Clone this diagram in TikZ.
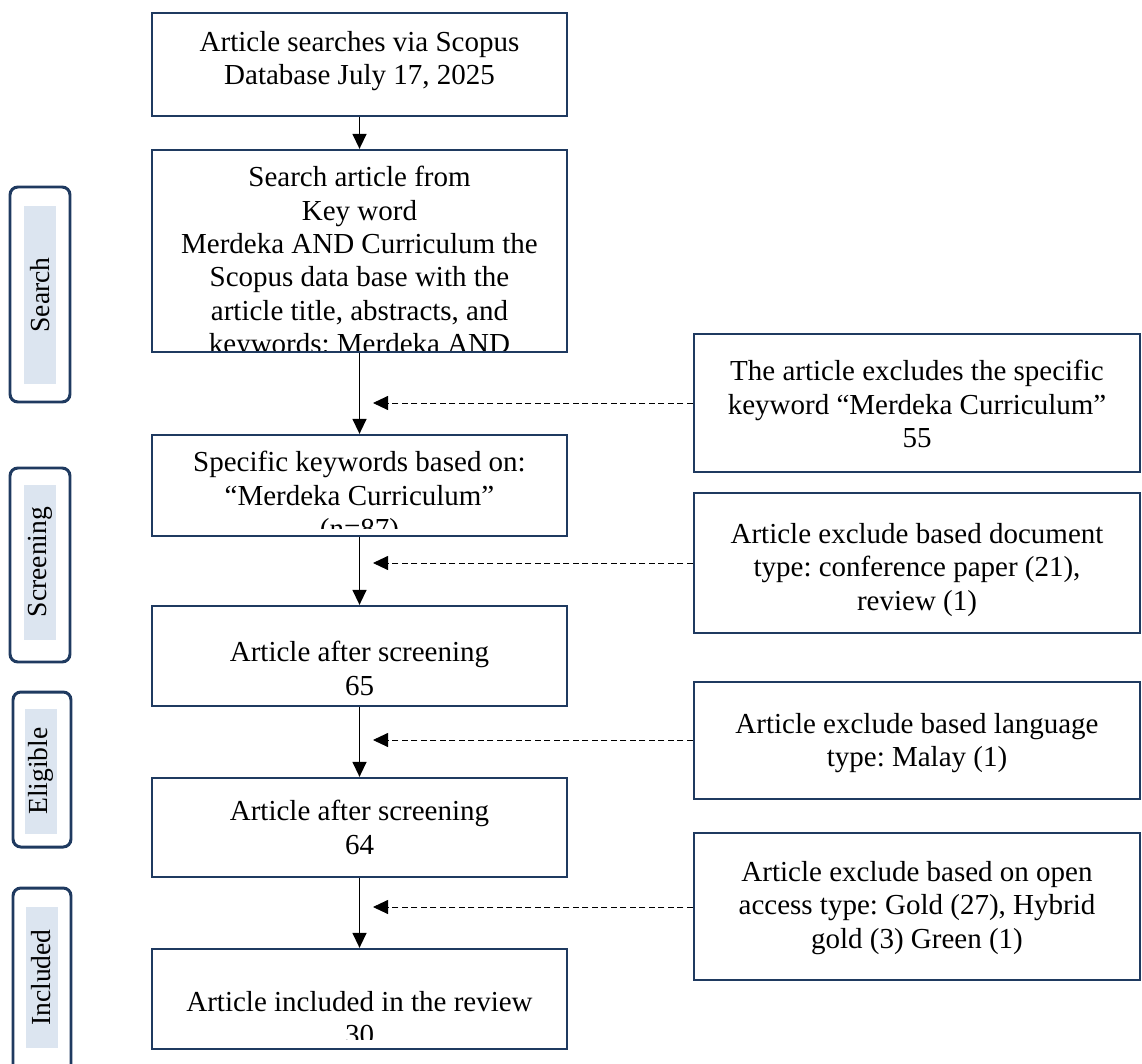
\documentclass[tikz,border=0pt]{standalone}
\usepackage{fontspec}
\setmainfont{Liberation Serif}
\usetikzlibrary{arrows.meta, positioning}
\definecolor{navy}{HTML}{1F3A60}
\definecolor{stagefill}{HTML}{DCE5F0}
\newcommand{\flowfont}{\fontsize{16.5}{19}\selectfont}
\newcommand{\stagefont}{\fontsize{15.7}{19}\selectfont}
\frenchspacing

\begin{document}
\begin{tikzpicture}[>={Triangle[length=0.3cm, width=0.28cm]},
  flowbox/.style={draw=navy, line width=1.3pt, minimum width=8.3cm, inner sep=0pt},
  exclbox/.style={draw=navy, line width=1.3pt, minimum width=8.92cm, inner sep=0pt},
  flowtext/.style={align=center, inner sep=0pt, font=\flowfont},
  stagebox/.style={draw=navy, line width=1.7pt, rounded corners=4.5pt, inner sep=0pt},
  stagelabel/.style={fill=stagefill, rotate=90, minimum height=0.64cm, inner sep=0pt, font=\stagefont},
  flow/.style={->, line width=0.8pt},
  excl/.style={->, line width=0.5pt, dash pattern=on 0.12cm off 0.07cm}]

\useasboundingbox (0,0) rectangle (22.84,21.26);

%% Stages on the left
\node[stagebox, minimum width=1.2cm, minimum height=4.30cm] (searchbox) at (0.80,15.37) {};
\node[stagelabel, minimum width=3.56cm] (search) at (0.80,15.36) {Search};
\node[stagebox, minimum width=1.2cm, minimum height=3.88cm] (screeningbox) at (0.80,9.96) {};
\node[stagelabel, minimum width=3.10cm] (screening) at (0.80,10.02) {Screening};
\node[stagebox, minimum width=1.16cm, minimum height=3.10cm] (eligiblebox) at (0.84,5.87) {};
\node[stagelabel, minimum width=2.50cm] (eligible) at (0.82,5.84) {Eligible};
\node[stagebox, minimum width=1.16cm, minimum height=3.74cm] (includedbox) at (0.84,1.63) {};
\node[stagelabel, minimum width=2.82cm] (included) at (0.83,1.71) {Included};

%% Main column
\node[flowbox, minimum height=2.06cm] (scopus) at (7.19,19.97) {};
\node[flowtext, below=0.38cm of scopus.north] (scopustext)
  {Article searches via Scopus\\Database July 17, 2025};

\node[flowbox, minimum height=4.04cm] (keyword) at (7.19,16.24) {};
\begin{scope}
  \clip ([yshift=0.06cm]keyword.south west) rectangle (keyword.north east);
  \node[flowtext, below=0.34cm of keyword.north] (keywordtext)
    {Search article from\\Key word\\Merdeka AND Curriculum the\\Scopus data base with the\\article title, abstracts, and\\keywords: Merdeka AND};
\end{scope}

\node[flowbox, minimum height=2.02cm] (specific) at (7.19,11.55) {};
\begin{scope}
  \clip ([yshift=0.18cm]specific.south west) rectangle (specific.north east);
  \node[flowtext, below=0.34cm of specific.north] (specifictext)
    {Specific keywords based on:\\``Merdeka Curriculum''\\(n=87)};
\end{scope}

\node[flowbox, minimum height=2.0cm] (screened) at (7.19,8.14) {};
\node[flowtext, below=0.72cm of screened.north] (screenedtext)
  {Article after screening\\65};

\node[flowbox, minimum height=1.98cm] (eligibleart) at (7.19,4.71) {};
\node[flowtext, below=0.46cm of eligibleart.north] (eligibletext)
  {Article after screening\\64};

\node[flowbox, minimum height=2.0cm] (review) at (7.19,1.28) {};
\begin{scope}
  \clip ([yshift=0.22cm]review.south west) rectangle (review.north east);
  \node[flowtext, below=0.86cm of review.north] (reviewtext)
    {Article included in the review\\30};
\end{scope}

% Solid arrows down the column
\draw[flow] (scopus) -- (keyword);
\draw[flow] (keyword) -- (specific);
\draw[flow] (specific) -- (screened);
\draw[flow] (screened) -- (eligibleart);
\draw[flow] (eligibleart) -- (review);

%% Exclusions on the right
\node[exclbox, minimum height=2.76cm] (excl1) at (18.34,13.20) {};
\node[flowtext, below=0.54cm of excl1.north] (excl1text)
  {The article excludes the specific\\keyword ``Merdeka Curriculum''\\55};
\node[exclbox, minimum height=2.80cm] (excl2) at (18.34,10.00) {};
\node[flowtext, below=0.62cm of excl2.north] (excl2text)
  {Article exclude based document\\type: conference paper (21),\\review (1)};
\node[exclbox, minimum height=2.34cm] (excl3) at (18.34,6.45) {};
\node[flowtext, below=0.64cm of excl3.north] (excl3text)
  {Article exclude based language\\type: Malay (1)};
\node[exclbox, minimum height=2.94cm] (excl4) at (18.34,3.13) {};
\node[flowtext, below=0.58cm of excl4.north] (excl4text)
  {Article exclude based on open\\access type: Gold (27), Hybrid\\gold (3) Green (1)};

% Dashed arrows towards the column
\coordinate (tip1) at (7.46,13.20);
\coordinate (tip2) at (7.46,10.00);
\coordinate (tip3) at (7.46,6.46);
\coordinate (tip4) at (7.46,3.12);
\draw[excl] (tip1 -| excl1.west) -- (tip1);
\draw[excl] (tip2 -| excl2.west) -- (tip2);
\draw[excl] (tip3 -| excl3.west) -- (tip3);
\draw[excl] (tip4 -| excl4.west) -- (tip4);

\end{tikzpicture}
\end{document}
